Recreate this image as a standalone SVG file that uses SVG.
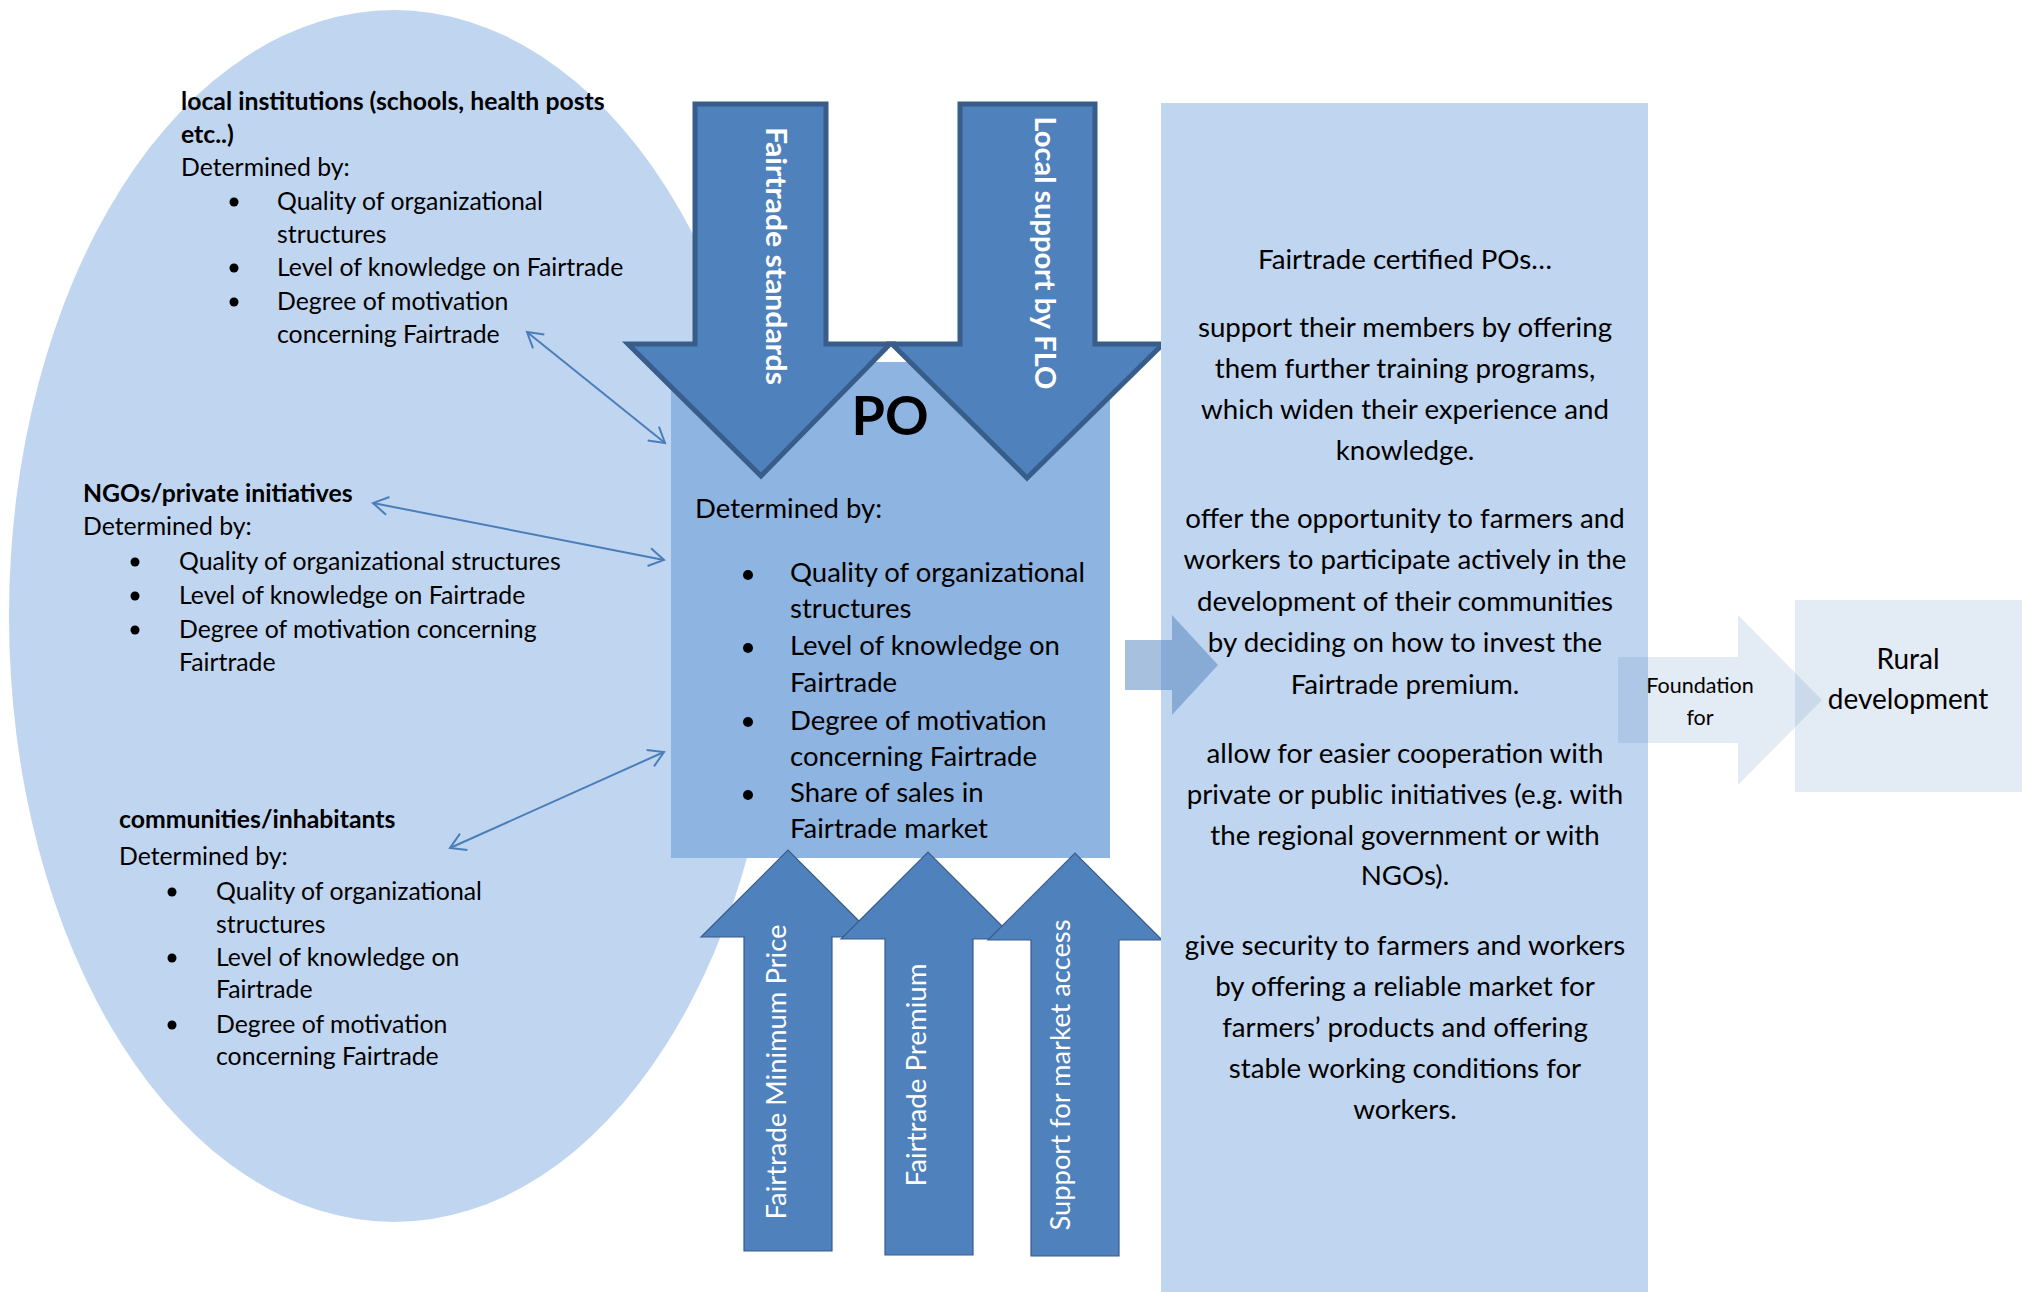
<svg xmlns="http://www.w3.org/2000/svg" width="2029" height="1292" viewBox="0 0 2029 1292">
<style>
text{font-family:Lato,"Liberation Sans",sans-serif;fill:#000}
.l{font-size:24.8px}
.lb{font-size:24.8px;font-weight:bold}
.po{font-size:27.5px}
.rp{font-size:27.7px;text-anchor:middle}
.lab{fill:#fff;text-anchor:middle}
.dn{fill:#4f81bd;stroke:#385d8a;stroke-width:5;stroke-linejoin:miter}
.up{fill:#4f81bd;stroke:#385d8a;stroke-width:1.2}
.bul{fill:#000}
.con{stroke:#4a7ebb;stroke-width:2;fill:none;marker-start:url(#oh);marker-end:url(#oh)}
</style>
<defs>
<marker id="oh" markerUnits="userSpaceOnUse" markerWidth="22" markerHeight="22" refX="18" refY="10" orient="auto-start-reverse">
<path d="M3,1 L18,10 L3,19" fill="none" stroke="#4a7ebb" stroke-width="2"/>
</marker>
</defs>
<rect width="2029" height="1292" fill="#fff"/>

<g id="environment">
<ellipse cx="394" cy="616" rx="385" ry="606" fill="#c0d5ef"/>
</g>

<g id="local-institutions">
<text class="lb" x="181" y="110">local institutions (schools, health posts</text>
<text class="lb" x="181" y="143">etc..)</text>
<text class="l" x="181" y="176">Determined by:</text>
<circle class="bul" cx="234" cy="202" r="4.5"/>
<circle class="bul" cx="234" cy="268" r="4.5"/>
<circle class="bul" cx="234" cy="302" r="4.5"/>
<text class="l" x="277" y="210">Quality of organizational</text>
<text class="l" x="277" y="243">structures</text>
<text class="l" x="277" y="276">Level of knowledge on Fairtrade</text>
<text class="l" x="277" y="310">Degree of motivation</text>
<text class="l" x="277" y="343">concerning Fairtrade</text>
</g>

<g id="ngos">
<text class="lb" x="83" y="502">NGOs/private initiatives</text>
<text class="l" x="83" y="535">Determined by:</text>
<circle class="bul" cx="135" cy="562" r="4.5"/>
<circle class="bul" cx="135" cy="596" r="4.5"/>
<circle class="bul" cx="135" cy="630" r="4.5"/>
<text class="l" x="179" y="570">Quality of organizational structures</text>
<text class="l" x="179" y="604">Level of knowledge on Fairtrade</text>
<text class="l" x="179" y="638">Degree of motivation concerning</text>
<text class="l" x="179" y="671">Fairtrade</text>
</g>

<g id="communities">
<text class="lb" x="119" y="828">communities/inhabitants</text>
<text class="l" x="119" y="865">Determined by:</text>
<circle class="bul" cx="172" cy="892" r="4.5"/>
<circle class="bul" cx="172" cy="958" r="4.5"/>
<circle class="bul" cx="172" cy="1025" r="4.5"/>
<text class="l" x="216" y="900">Quality of organizational</text>
<text class="l" x="216" y="933">structures</text>
<text class="l" x="216" y="966">Level of knowledge on</text>
<text class="l" x="216" y="998">Fairtrade</text>
<text class="l" x="216" y="1033">Degree of motivation</text>
<text class="l" x="216" y="1065">concerning Fairtrade</text>
</g>

<g id="po">
<rect x="671" y="362" width="439" height="496" fill="#8eb4e2"/>
<text x="890" y="435" font-size="54" font-weight="bold" text-anchor="middle">PO</text>
<text class="po" x="695" y="518">Determined by:</text>
<circle class="bul" cx="748" cy="575" r="5"/>
<circle class="bul" cx="748" cy="648" r="5"/>
<circle class="bul" cx="748" cy="722" r="5"/>
<circle class="bul" cx="748" cy="795" r="5"/>
<text class="po" x="790" y="582">Quality of organizational</text>
<text class="po" x="790" y="618">structures</text>
<text class="po" x="790" y="655">Level of knowledge on</text>
<text class="po" x="790" y="692">Fairtrade</text>
<text class="po" x="790" y="730">Degree of motivation</text>
<text class="po" x="790" y="766">concerning Fairtrade</text>
<text class="po" x="790" y="802">Share of sales in</text>
<text class="po" x="790" y="838">Fairtrade market</text>
</g>

<g id="fairtrade-standards">
<path class="dn" d="M695,104 H826 V344 H890 L761,476 L628,344 H695 Z"/>
<text class="lab" transform="translate(766,256) rotate(90)" font-size="28" font-weight="bold" textLength="258" lengthAdjust="spacingAndGlyphs">Fairtrade standards</text>
</g>

<g id="local-support">
<path class="dn" d="M960,104 H1095 V344 H1163 L1027,478 L892,344 H960 Z"/>
<text class="lab" transform="translate(1035,253) rotate(90)" font-size="28" font-weight="bold" textLength="273" lengthAdjust="spacingAndGlyphs">Local support by FLO</text>
</g>

<g id="minimum-price">
<path class="up" d="M744,1251 V937 H701 L788,850 L875,937 H832 V1251 Z"/>
<text class="lab" transform="translate(786,1072) rotate(-90)" font-size="27" textLength="295" lengthAdjust="spacingAndGlyphs">Fairtrade Minimum Price</text>
</g>

<g id="premium">
<path class="up" d="M885,1255 V939 H841 L928,852 L1015,939 H973 V1255 Z"/>
<text class="lab" transform="translate(926,1075) rotate(-90)" font-size="27" textLength="223" lengthAdjust="spacingAndGlyphs">Fairtrade Premium</text>
</g>

<g id="market-access">
<path class="up" d="M1031,1256 V940 H988 L1075,853 L1162,940 H1119 V1256 Z"/>
<text class="lab" transform="translate(1070,1075) rotate(-90)" font-size="27" textLength="311" lengthAdjust="spacingAndGlyphs">Support for market access</text>
</g>

<g id="certified-pos">
<rect x="1161" y="103" width="487" height="1189" fill="#c0d5ef"/>
<text class="rp" x="1405" y="269">Fairtrade certified POs…</text>
<text class="rp" x="1405" y="337">support their members by offering</text>
<text class="rp" x="1405" y="378">them further training programs,</text>
<text class="rp" x="1405" y="419">which widen their experience and</text>
<text class="rp" x="1405" y="460">knowledge.</text>
<text class="rp" x="1405" y="528">offer the opportunity to farmers and</text>
<text class="rp" x="1405" y="569">workers to participate actively in the</text>
<text class="rp" x="1405" y="611">development of their communities</text>
<text class="rp" x="1405" y="652">by deciding on how to invest the</text>
<text class="rp" x="1405" y="694">Fairtrade premium.</text>
<text class="rp" x="1405" y="763">allow for easier cooperation with</text>
<text class="rp" x="1405" y="804">private or public initiatives (e.g. with</text>
<text class="rp" x="1405" y="845">the regional government or with</text>
<text class="rp" x="1405" y="885">NGOs).</text>
<text class="rp" x="1405" y="955">give security to farmers and workers</text>
<text class="rp" x="1405" y="996">by offering a reliable market for</text>
<text class="rp" x="1405" y="1037">farmers’ products and offering</text>
<text class="rp" x="1405" y="1078">stable working conditions for</text>
<text class="rp" x="1405" y="1119">workers.</text>
</g>

<g id="rural-development">
<rect x="1795" y="600" width="227" height="192" fill="#4f81bd" fill-opacity="0.16"/>
<text x="1908" y="669" font-size="28" text-anchor="middle">Rural</text>
<text x="1908" y="709" font-size="28" text-anchor="middle">development</text>
</g>

<g id="connectors">
<line class="con" x1="527" y1="332" x2="665" y2="443"/>
<line class="con" x1="373" y1="503" x2="664" y2="560"/>
<line class="con" x1="664" y1="752" x2="450" y2="848"/>
<path d="M1125,640 H1172 V615 L1218,665 L1172,715 V690 H1125 Z" fill="#4f81bd" fill-opacity="0.5"/>
<path d="M1618,657 H1738 V615 L1822,700 L1738,785 V743 H1618 Z" fill="#4f81bd" fill-opacity="0.16"/>
<text x="1700" y="693" font-size="21.5" text-anchor="middle">Foundation</text>
<text x="1700" y="725" font-size="21.5" text-anchor="middle">for</text>
</g>
</svg>
